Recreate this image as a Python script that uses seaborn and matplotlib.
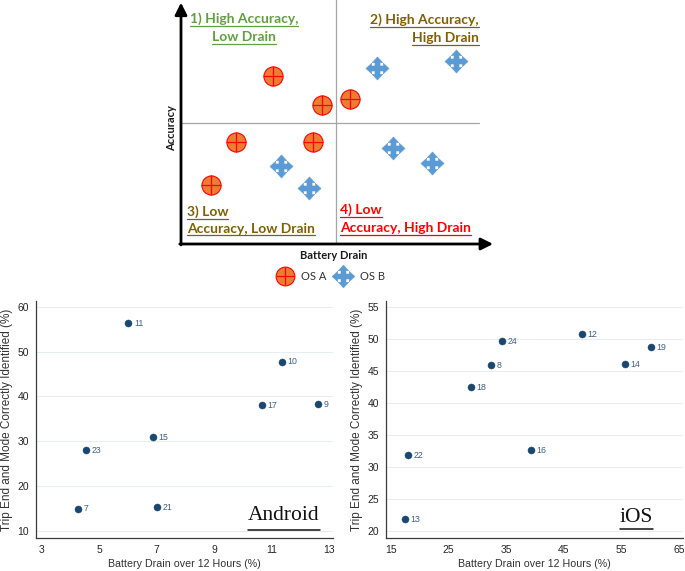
import numpy as np
import pandas as pd
import seaborn as sns
import matplotlib.pyplot as plt
from matplotlib.path import Path
from matplotlib.lines import Line2D

W, H = 685, 571

# concept diagram, 0-100 scale on both axes
osa_drain = [29.8, 45.6, 54.7, 17.8, 42.7, 9.7]
osa_acc = [70.3, 58.2, 60.7, 42.7, 42.7, 24.7]
osb_drain = [63.4, 89.0, 32.4, 41.4, 68.6, 81.2]
osb_acc = [73.6, 76.6, 32.6, 23.4, 40.2, 33.9]

# Android phones
and_id = [11, 10, 17, 9, 15, 23, 7, 21]
and_drain = [6.01, 11.35, 10.65, 12.63, 6.86, 4.52, 4.26, 7.01]
and_acc = [56.3, 47.8, 38.0, 38.4, 31.0, 28.1, 15.0, 15.4]

# iOS phones
ios_id = [12, 24, 19, 8, 14, 18, 16, 22, 13]
ios_drain = [48.1, 34.3, 60.1, 32.3, 55.6, 28.9, 39.3, 18.0, 17.4]
ios_acc = [50.8, 49.7, 48.8, 45.9, 46.1, 42.5, 32.6, 31.8, 21.8]

sns.set_style('white')
plt.rcParams['font.family'] = ['Liberation Sans', 'DejaVu Sans']

fig = plt.figure(figsize=(W / 100, H / 100), dpi=100)
fig.patch.set_facecolor('white')


def fx(x):
    return x / W


def fy(y):
    return 1 - y / H


def px_axes(l, t, r, b):
    return fig.add_axes([fx(l), fy(b), (r - l) / W, (b - t) / H])


# 4-way arrow marker for OS B (diamond with small notches)
s, a, c = 0.22, 0.46, 0.5
verts = [(0, 1), (a, c), (s, c), (s, s), (c, s), (c, a), (1, 0), (c, -a), (c, -s), (s, -s),
         (s, -c), (a, -c), (0, -1), (-a, -c), (-s, -c), (-s, -s), (-c, -s), (-c, -a), (-1, 0),
         (-c, a), (-c, s), (-s, s), (-s, c), (-a, c), (0, 1)]
arrow4 = Path(verts, [Path.MOVETO] + [Path.LINETO] * (len(verts) - 2) + [Path.CLOSEPOLY])

orange, red, blue = '#ED7D31', '#FF0000', '#5B9BD5'

# ---- concept diagram ----
ax0 = px_axes(181, 5, 490, 244)
ax0.set_xlim(0, 100)
ax0.set_ylim(0, 100)
ax0.axis('off')
ax0.axvline(50, ymin=0, ymax=1.02, color='#a6a6a6', lw=0.9, clip_on=False, zorder=1)
ax0.axhline(50.6, xmin=0, xmax=0.964, color='#a6a6a6', lw=0.9, zorder=1)
arr = dict(arrowstyle='-|>,head_length=0.6,head_width=0.3', lw=2.0, color='black',
           mutation_scale=12, shrinkA=0, shrinkB=0)
ax0.annotate('', xy=(1.01, 0), xytext=(-0.004, 0), xycoords='axes fraction', arrowprops=arr)
ax0.annotate('', xy=(0, 1.01), xytext=(0, -0.004), xycoords='axes fraction', arrowprops=arr)

sns.scatterplot(x=osa_drain, y=osa_acc, ax=ax0, s=190, color=orange, edgecolor=red,
                linewidth=0.8, zorder=3)
sns.scatterplot(x=osa_drain, y=osa_acc, ax=ax0, s=190, marker='+', color=red,
                linewidth=0.9, zorder=4)
sns.scatterplot(x=osb_drain, y=osb_acc, ax=ax0, s=280, marker=arrow4, color=blue,
                edgecolor=blue, linewidth=0.3, zorder=3)

quad = [
    ('1) High Accuracy,', 244, 23, 'center', '#62A03F'),
    ('Low Drain', 244, 41, 'center', '#62A03F'),
    ('2) High Accuracy,', 479, 24, 'right', '#806000'),
    ('High Drain', 479, 42, 'right', '#806000'),
    ('3) Low', 187, 216, 'left', '#806000'),
    ('Accuracy, Low Drain', 187, 233, 'left', '#806000'),
    ('4) Low', 340, 214, 'left', red),
    ('Accuracy, High Drain', 340, 232, 'left', red),
]
to_underline = []
for txt, x, y, ha, col in quad:
    t = fig.text(fx(x), fy(y), txt, ha=ha, va='baseline', color=col, family='Lato',
                 weight='bold', fontsize=10)
    to_underline.append((t, y + 2.5, col, 0.9))

fig.text(fx(334), fy(259), 'Battery Drain', ha='center', va='baseline', family='Lato',
         weight='bold', fontsize=8, color='#1a1a1a')
fig.text(fx(172), fy(128), 'Accuracy', ha='center', va='center', rotation=90, family='Lato',
         weight='bold', fontsize=8, color='#1a1a1a')

h_a = (Line2D([], [], marker='o', ms=13.5, mfc=orange, mec=red, mew=0.8, ls=''),
       Line2D([], [], marker='+', ms=13.5, mec=red, mew=0.9, ls=''))
h_b = Line2D([], [], marker=arrow4, ms=16.5, mfc=blue, mec=blue, mew=0.3, ls='')
leg = fig.legend([h_a, h_b], ['OS A', 'OS B'], loc='center', bbox_to_anchor=(fx(331), fy(276)),
                 ncol=2, frameon=False, handletextpad=0.8, columnspacing=0.8, handlelength=1.4,
                 prop={'family': 'Lato', 'size': 8})
for t in leg.get_texts():
    t.set_color('#333333')


# ---- scatter panels ----
def panel(ax, drain, acc, ids, xlim, xticks, ylim, yticks):
    ax.grid(False)
    for yt in yticks:
        ax.axhline(yt, color='#e6eef0', lw=0.8, zorder=0)
    sns.scatterplot(x=drain, y=acc, ax=ax, s=26, color='#1a476f', edgecolor='#1a476f',
                    linewidth=0.3, zorder=3)
    for i, x, y in zip(ids, drain, acc):
        ax.annotate(str(i), (x, y), xytext=(4, -0.3), textcoords='offset points', va='center',
                    ha='left', fontsize=6.3, color='#3e5f8a')
    ax.set_xlim(*xlim)
    ax.set_ylim(*ylim)
    ax.set_xticks(xticks)
    ax.set_yticks(yticks)
    for side in ['top', 'right']:
        ax.spines[side].set_visible(False)
    for side in ['left', 'bottom']:
        ax.spines[side].set_color('#3a3a3a')
        ax.spines[side].set_linewidth(0.9)
    ax.tick_params(direction='out', length=3, width=0.8, color='#3a3a3a', labelsize=7.5,
                   labelcolor='#262626', pad=2)
    ax.set_xlabel('Battery Drain over 12 Hours (%)', fontsize=7.7, color='#333333', labelpad=3)
    ax.set_ylabel('Trip End and Mode Correctly Identified (%)', fontsize=8.5, color='#333333',
                  labelpad=3.5)


ax1 = px_axes(36, 301, 333, 538)
panel(ax1, and_drain, and_acc, and_id, (2.79, 13.14), [3, 5, 7, 9, 11, 13], (8.43, 61.3),
      [10, 20, 30, 40, 50, 60])
ax2 = px_axes(386, 301, 683, 538)
panel(ax2, ios_drain, ios_acc, ios_id, (14.13, 65.66), [15, 25, 35, 45, 55, 65], (18.9, 55.94),
      [20, 25, 30, 35, 40, 45, 50, 55])

t = fig.text(fx(248), fy(520), 'Android', ha='left', va='baseline', family='Liberation Serif',
             fontsize=15.5, color='#111111')
to_underline.append((t, 530, '#111111', 1.1))
t = fig.text(fx(620), fy(522), 'iOS', ha='left', va='baseline', family='Liberation Serif',
             fontsize=15.5, color='#111111')
to_underline.append((t, 529, '#111111', 1.1))

fig.canvas.draw()
r = fig.canvas.get_renderer()
for t, y, col, lw in to_underline:
    bb = t.get_window_extent(r)
    fig.add_artist(Line2D([bb.x0 / W, bb.x1 / W], [fy(y), fy(y)], color=col, lw=lw))

fig.savefig('out.png', dpi=100, facecolor='white')
